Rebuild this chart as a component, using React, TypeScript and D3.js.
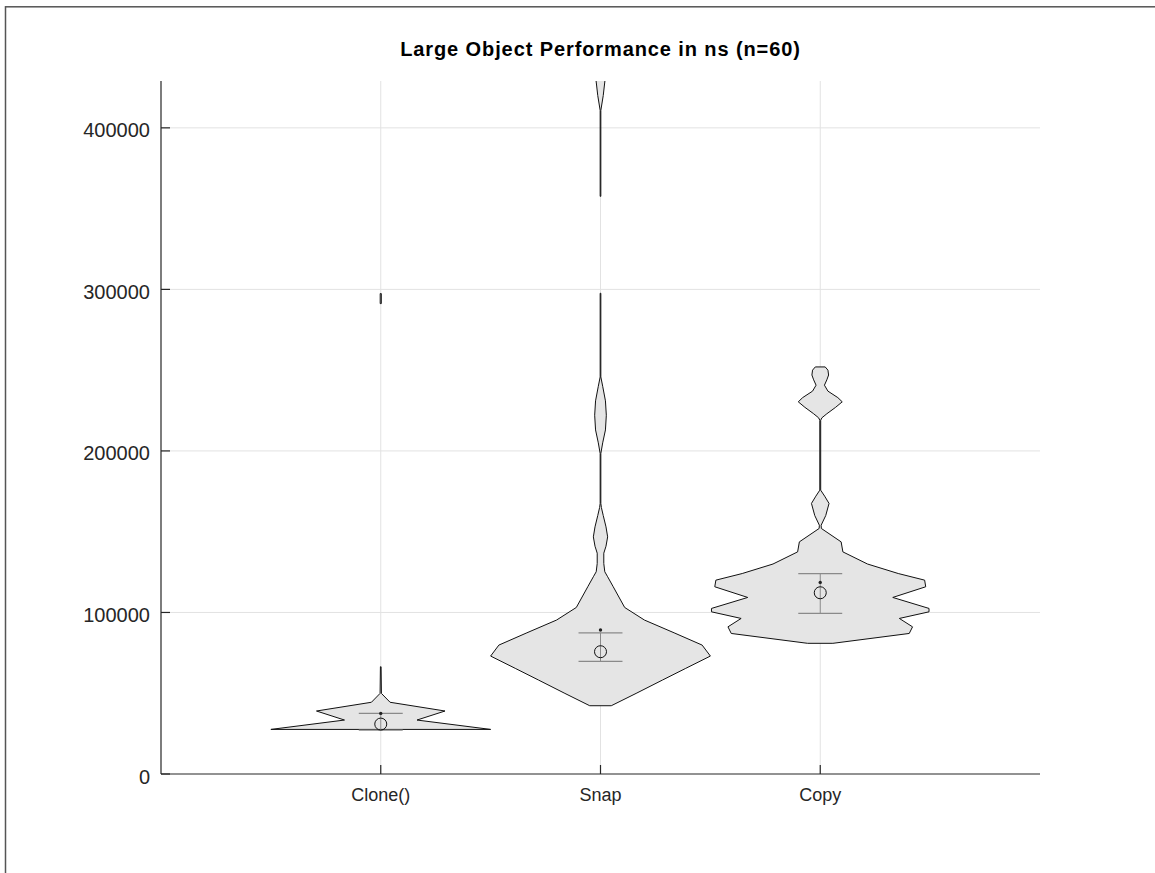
import React from "react";
import * as d3 from "d3";

// violin outlines: [value in ns, relative half width (1 = widest)]
// a width of 0 leaves a gap in the outline
const categories = ["Clone()", "Snap", "Copy"];

const cloneProfile: [number, number][] = [
  [27600, 1.0], [33400, 0.33], [39000, 0.585], [44400, 0.085], [49900, 0.006],
  [66400, 0.003], [66500, 0], [291100, 0], [291200, 0.005], [297400, 0.005]
];

const snapProfile: [number, number][] = [
  [42260, 0.098], [49900, 0.324], [58200, 0.565], [65400, 0.776], [73000, 1.0],
  [79800, 0.925], [87400, 0.67], [95300, 0.4], [103100, 0.22], [115900, 0.116],
  [122100, 0.065], [125200, 0.039], [130300, 0.03], [136700, 0.03], [141000, 0.05],
  [146800, 0.065], [153000, 0.05], [160000, 0.025], [165000, 0.008], [167500, 0.003],
  [198400, 0.003], [205000, 0.02], [213000, 0.045], [222100, 0.053], [231000, 0.045],
  [240000, 0.02], [245800, 0.003], [297600, 0.003], [297700, 0], [357500, 0],
  [357600, 0.003], [410800, 0.003], [420000, 0.025], [429000, 0.04], [440000, 0.05],
  [450000, 0.02]
];

const copyProfile: [number, number][] = [
  [80900, 0.115], [87000, 0.81], [91100, 0.84], [96300, 0.72], [100400, 0.99],
  [102500, 0.99], [109300, 0.66], [115900, 0.96], [120000, 0.95], [124100, 0.71],
  [130000, 0.43], [137500, 0.206], [143700, 0.19], [152000, 0.01], [154000, 0.008],
  [160000, 0.05], [167500, 0.08], [172000, 0.04], [175700, 0.004], [219000, 0.004],
  [220500, 0.015], [223000, 0.06], [227000, 0.14], [230400, 0.2], [233000, 0.16],
  [237000, 0.07], [240700, 0.038], [244000, 0.06], [247000, 0.076], [250000, 0.07],
  [252000, 0.045]
];

const profiles = [cloneProfile, snapProfile, copyProfile];

// summary markers per category
const meanValues = [30900, 75700, 112200];
const medianValues = [37500, 89100, 118600];
const lowerValues = [27200, 69700, 99400];
const upperValues = [37500, 87400, 124100];

const yTicks = [0, 100000, 200000, 300000, 400000];

export default function App() {
  const width = 1155;
  const height = 873;
  const left = 161;
  const right = 1040;
  const top = 81;
  const bottom = 774;

  const x = d3.scaleLinear().domain([0, 4]).range([left, right]);
  const y = d3.scaleLinear().domain([0, 429000]).range([bottom, top]);

  const violin = (i: number) =>
    d3
      .area<[number, number]>()
      .defined((d) => d[1] > 0)
      .y((d) => y(d[0]))
      .x0((d) => x(i + 1 - d[1] * 0.5))
      .x1((d) => x(i + 1 + d[1] * 0.5))(profiles[i]) || "";

  const font = "'Liberation Sans', Arial, sans-serif";

  return (
    <svg
      width={width}
      height={height}
      style={{ position: "absolute", left: 0, top: 0, background: "white" }}
    >
      <defs>
        <clipPath id="plot">
          <rect x={left} y={top} width={right - left} height={bottom - top} />
        </clipPath>
      </defs>
      <rect x={5.5} y={6.8} width={1300} height={1000} fill="none" stroke="#555" strokeWidth={1.5} />

      <text
        x={(left + right) / 2}
        y={56}
        textAnchor="middle"
        fontFamily={font}
        fontWeight="bold"
        fontSize={20}
        letterSpacing={0.9}
        fill="#000"
      >
        Large Object Performance in ns (n=60)
      </text>

      <g>
        {yTicks.slice(1).map((t) => (
          <line key={t} x1={left} x2={right} y1={y(t)} y2={y(t)} stroke="#e2e2e2" strokeWidth={1} />
        ))}
        {categories.map((c, i) => (
          <line key={c} x1={x(i + 1)} x2={x(i + 1)} y1={top} y2={bottom} stroke="#e2e2e2" strokeWidth={1} />
        ))}
      </g>

      <g clipPath="url(#plot)">
        {categories.map((c, i) => (
          <path key={c} d={violin(i)} fill="#e5e5e5" stroke="#111" strokeWidth={1} strokeLinejoin="round" />
        ))}
      </g>

      <g>
        {categories.map((c, i) => (
          <g key={c}>
            <line x1={x(i + 1)} x2={x(i + 1)} y1={y(lowerValues[i])} y2={y(upperValues[i])} stroke="#8a8a8a" strokeWidth={1} />
            <line x1={x(i + 0.9)} x2={x(i + 1.1)} y1={y(lowerValues[i])} y2={y(lowerValues[i])} stroke="#8a8a8a" strokeWidth={1.2} />
            <line x1={x(i + 0.9)} x2={x(i + 1.1)} y1={y(upperValues[i])} y2={y(upperValues[i])} stroke="#8a8a8a" strokeWidth={1.2} />
            <circle cx={x(i + 1)} cy={y(meanValues[i])} r={6} fill="none" stroke="#111" strokeWidth={1} />
            <circle cx={x(i + 1)} cy={y(medianValues[i])} r={1.7} fill="#222" />
          </g>
        ))}
      </g>

      <g stroke="#262626" strokeWidth={1.2}>
        <line x1={left} x2={left} y1={top} y2={bottom} />
        <line x1={left} x2={right} y1={bottom} y2={bottom} />
        {yTicks.map((t) => (
          <line key={t} x1={left} x2={left + 9} y1={y(t)} y2={y(t)} />
        ))}
        {categories.map((c, i) => (
          <line key={c} x1={x(i + 1)} x2={x(i + 1)} y1={bottom} y2={bottom - 9} />
        ))}
      </g>

      <g fontFamily={font} fill="#262626">
        {yTicks.map((t) => (
          <text key={t} x={left - 11} y={y(t) + 9.5} textAnchor="end" fontSize={20}>
            {t}
          </text>
        ))}
        {categories.map((c, i) => (
          <text key={c} x={x(i + 1)} y={801} textAnchor="middle" fontSize={18}>
            {c}
          </text>
        ))}
      </g>
    </svg>
  );
}
